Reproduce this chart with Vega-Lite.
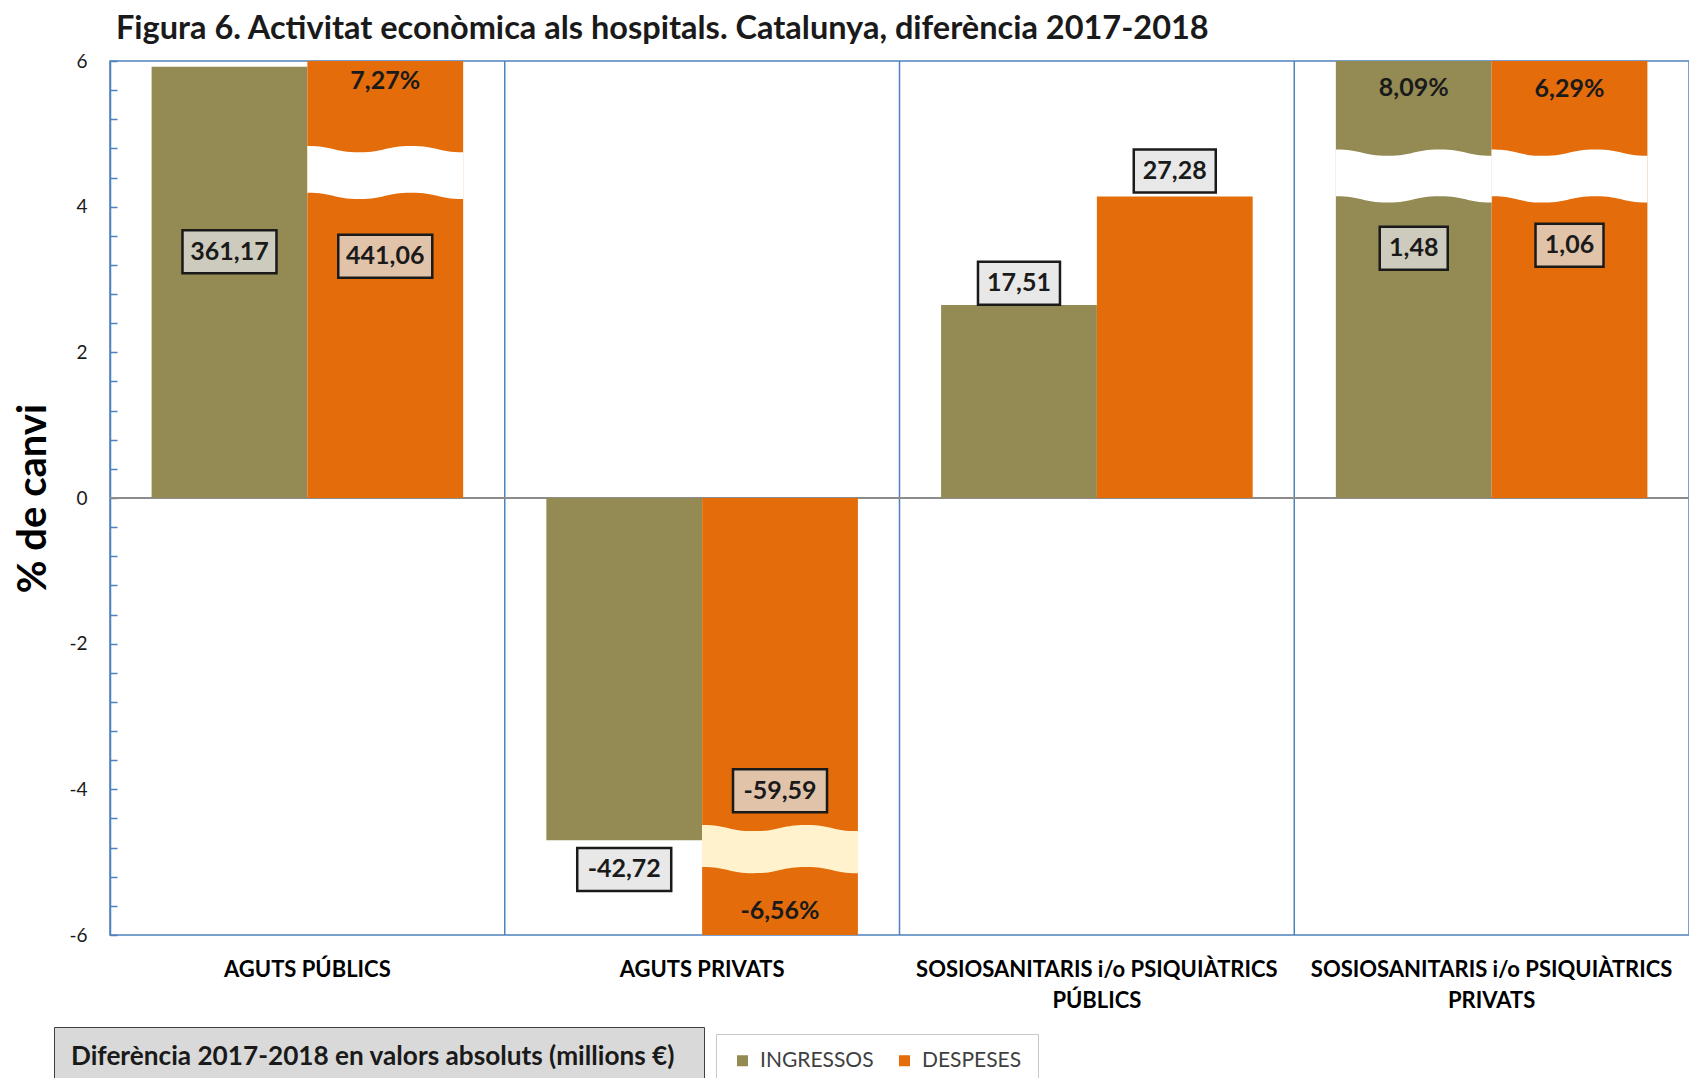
{
  "$schema": "https://vega.github.io/schema/vega-lite/v6.json",
  "autosize": {"type": "none"},
  "width": 1579,
  "height": 874,
  "padding": {"left": 110, "top": 61, "right": 0, "bottom": 143},
  "background": "white",
  "view": {"stroke": "#4F81BD", "strokeWidth": 1.5},
  "title": {
    "text": "Figura 6. Activitat econòmica als hospitals. Catalunya, diferència 2017-2018",
    "anchor": "start", "frame": "group", "font": "Lato", "fontSize": 32.5, "fontWeight": "bold",
    "color": "#1a1a1a", "offset": 7, "dx": 6
  },
  "datasets": {
    "bars": [
      {"cat": "AGUTS PÚBLICS", "serie": "INGRESSOS", "pct": 5.92},
      {"cat": "AGUTS PÚBLICS", "serie": "DESPESES", "pct": 7.27},
      {"cat": "AGUTS PRIVATS", "serie": "INGRESSOS", "pct": -4.70},
      {"cat": "AGUTS PRIVATS", "serie": "DESPESES", "pct": -6.56},
      {"cat": "SOSIOSANITARIS i/o PSIQUIÀTRICS PÚBLICS", "serie": "INGRESSOS", "pct": 2.65},
      {"cat": "SOSIOSANITARIS i/o PSIQUIÀTRICS PÚBLICS", "serie": "DESPESES", "pct": 4.14},
      {"cat": "SOSIOSANITARIS i/o PSIQUIÀTRICS PRIVATS", "serie": "INGRESSOS", "pct": 8.09},
      {"cat": "SOSIOSANITARIS i/o PSIQUIÀTRICS PRIVATS", "serie": "DESPESES", "pct": 6.29}
    ],
    "breaks": [
      {"cat": "AGUTS PÚBLICS", "serie": "DESPESES", "at": 4.47},
      {"cat": "AGUTS PRIVATS", "serie": "DESPESES", "at": -4.82},
      {"cat": "SOSIOSANITARIS i/o PSIQUIÀTRICS PRIVATS", "serie": "INGRESSOS", "at": 4.42},
      {"cat": "SOSIOSANITARIS i/o PSIQUIÀTRICS PRIVATS", "serie": "DESPESES", "at": 4.42}
    ],
    "labels": [
      {"cat": "AGUTS PÚBLICS", "serie": "INGRESSOS", "text": "361,17", "at": 3.38},
      {"cat": "AGUTS PÚBLICS", "serie": "DESPESES", "text": "441,06", "at": 3.32},
      {"cat": "AGUTS PÚBLICS", "serie": "DESPESES", "text": "7,27%", "at": 5.72},
      {"cat": "AGUTS PRIVATS", "serie": "INGRESSOS", "text": "-42,72", "at": -5.10},
      {"cat": "AGUTS PRIVATS", "serie": "DESPESES", "text": "-59,59", "at": -4.02},
      {"cat": "AGUTS PRIVATS", "serie": "DESPESES", "text": "-6,56%", "at": -5.67},
      {"cat": "SOSIOSANITARIS i/o PSIQUIÀTRICS PÚBLICS", "serie": "INGRESSOS", "text": "17,51", "at": 2.95},
      {"cat": "SOSIOSANITARIS i/o PSIQUIÀTRICS PÚBLICS", "serie": "DESPESES", "text": "27,28", "at": 4.49},
      {"cat": "SOSIOSANITARIS i/o PSIQUIÀTRICS PRIVATS", "serie": "INGRESSOS", "text": "8,09%", "at": 5.63},
      {"cat": "SOSIOSANITARIS i/o PSIQUIÀTRICS PRIVATS", "serie": "DESPESES", "text": "6,29%", "at": 5.62},
      {"cat": "SOSIOSANITARIS i/o PSIQUIÀTRICS PRIVATS", "serie": "INGRESSOS", "text": "1,48", "at": 3.43},
      {"cat": "SOSIOSANITARIS i/o PSIQUIÀTRICS PRIVATS", "serie": "DESPESES", "text": "1,06", "at": 3.47}
    ]
  },
  "layer": [
    {
      "data": {"name": "bars"},
      "transform": [{"filter": "datum.serie == 'INGRESSOS' && datum.cat != 'AGUTS PÚBLICS'"}],
      "mark": {"type": "rule", "color": "#4F81BD", "strokeWidth": 1.5},
      "encoding": {
        "x": {"field": "cat", "type": "nominal", "bandPosition": 0, "title": null,
              "scale": {"domain": ["AGUTS PÚBLICS", "AGUTS PRIVATS", "SOSIOSANITARIS i/o PSIQUIÀTRICS PÚBLICS", "SOSIOSANITARIS i/o PSIQUIÀTRICS PRIVATS"], "paddingInner": 0, "paddingOuter": 0}}
      }
    },
    {
      "data": {"values": [{}]},
      "mark": {"type": "rule", "color": "#8C8C8C", "strokeWidth": 2},
      "encoding": {
        "y": {"datum": 0, "type": "quantitative", "title": "% de canvi"},
        "opacity": {
          "datum": "nota", "type": "ordinal",
          "scale": {"range": [1, 1]},
          "legend": {
            "orient": "none", "legendX": -56, "legendY": 966,
            "direction": "horizontal",
            "title": "Diferència  2017-2018 en valors absoluts (millions €)",
            "titleOrient": "left", "titleFont": "Lato", "titleFontSize": 26.2, "titleFontWeight": "bold",
            "titleColor": "#1a1a1a", "titlePadding": 0, "titleBaseline": "top", "titleLimit": 1000,
            "fillColor": "#D9D9D9", "strokeColor": "#404040", "padding": 17,
            "symbolSize": 0, "symbolOpacity": 0, "symbolStrokeWidth": 0,
            "labelExpr": "''", "labelFontSize": 1
          }
        }
      }
    },
    {
      "data": {"name": "bars"},
      "mark": {"type": "bar", "clip": true},
      "encoding": {
        "x": {"field": "cat", "type": "nominal", "title": null,
              "scale": {"domain": ["AGUTS PÚBLICS", "AGUTS PRIVATS", "SOSIOSANITARIS i/o PSIQUIÀTRICS PÚBLICS", "SOSIOSANITARIS i/o PSIQUIÀTRICS PRIVATS"], "paddingInner": 0, "paddingOuter": 0},
              "axis": {"domain": false, "ticks": false, "grid": false, "labelAngle": 0, "labelAlign": "center",
                       "labelFont": "Lato", "labelFontSize": 22, "labelFontWeight": "bold", "labelColor": "#000",
                       "labelPadding": 34, "labelLineHeight": 31, "labelLimit": 600,
                       "labelExpr": "indexof(datum.label,'SOSIO') == 0 ? [substring(datum.label,0,31), substring(datum.label,32)] : datum.label"}},
        "xOffset": {"field": "serie", "type": "nominal",
                    "scale": {"domain": ["INGRESSOS", "DESPESES"], "paddingInner": 0, "paddingOuter": 0.267}},
        "y": {"field": "pct", "type": "quantitative", "title": "% de canvi",
              "scale": {"domain": [-6, 6], "nice": false, "zero": false},
              "axis": {
                "values": [-6,-5.6,-5.2,-4.8,-4.4,-4,-3.6,-3.2,-2.8,-2.4,-2,-1.6,-1.2,-0.8,-0.4,0,0.4,0.8,1.2,1.6,2,2.4,2.8,3.2,3.6,4,4.4,4.8,5.2,5.6,6],
                "tickCount": 100,
                "labelExpr": "datum.value % 2 == 0 ? '' + datum.value : ''",
                "tickSize": -7, "labelPadding": 30, "grid": false,
                "domainColor": "#4F81BD", "domainWidth": 1.5, "tickColor": "#4F81BD", "tickWidth": 1.5,
                "labelFont": "Lato", "labelFontSize": 19, "labelColor": "#1a1a1a",
                "labelOverlap": false, "labelFlush": false, "labelBound": false,
                "titleFont": "Lato", "titleFontSize": 40, "titleFontWeight": "bold", "titleColor": "#000",
                "titleX": -77, "titleY": 437, "titleAngle": -90, "titleBaseline": "middle", "titleAlign": "center"
              }},
        "color": {"field": "serie", "type": "nominal",
                  "scale": {"domain": ["INGRESSOS", "DESPESES"], "range": ["#948A54", "#E46C0A"]},
                  "legend": {"orient": "none", "legendX": 606, "legendY": 973, "direction": "horizontal",
                             "title": null, "fillColor": "white", "strokeColor": "#C8C8C8", "padding": 16,
                             "symbolType": "square", "symbolSize": 121, "symbolStrokeWidth": 0,
                             "labelFont": "Lato", "labelFontSize": 21, "labelColor": "#404040",
                             "columnPadding": 20, "labelOffset": 7}}
      }
    },
    {
      "data": {"name": "breaks"},
      "transform": [{"filter": "datum.at > 0"}],
      "mark": {"type": "point", "filled": true, "fill": "white", "opacity": 1, "strokeWidth": 0, "size": 24336,
               "shape": "M-1,-0.34 C-0.667,-0.34 -0.667,-0.26 -0.333,-0.26 C0,-0.26 0,-0.34 0.333,-0.34 C0.667,-0.34 0.667,-0.26 1,-0.26 L1,0.34 C0.667,0.34 0.667,0.26 0.333,0.26 C0,0.26 0,0.34 -0.333,0.34 C-0.667,0.34 -0.667,0.26 -1,0.26 Z"},
      "encoding": {
        "x": {"field": "cat", "type": "nominal", "title": null},
        "xOffset": {"field": "serie", "type": "nominal"},
        "y": {"field": "at", "type": "quantitative", "title": "% de canvi"}
      }
    },
    {
      "data": {"name": "breaks"},
      "transform": [{"filter": "datum.at < 0"}],
      "mark": {"type": "point", "filled": true, "fill": "#FFF2CC", "opacity": 1, "strokeWidth": 0, "size": 24336,
               "shape": "M-1,-0.31 C-0.667,-0.31 -0.667,-0.23 -0.333,-0.23 C0,-0.23 0,-0.31 0.333,-0.31 C0.667,-0.31 0.667,-0.23 1,-0.23 L1,0.31 C0.667,0.31 0.667,0.23 0.333,0.23 C0,0.23 0,0.31 -0.333,0.31 C-0.667,0.31 -0.667,0.23 -1,0.23 Z"},
      "encoding": {
        "x": {"field": "cat", "type": "nominal", "title": null},
        "xOffset": {"field": "serie", "type": "nominal"},
        "y": {"field": "at", "type": "quantitative", "title": "% de canvi"}
      }
    },
    {
      "data": {"name": "labels"},
      "transform": [{"filter": "indexof(datum.text,'%') < 0 && length(datum.text) == 6"}],
      "mark": {"type": "point", "filled": true, "fill": "#E0E0E0", "fillOpacity": 0.75, "opacity": 1,
               "stroke": "#1a1a1a", "strokeWidth": 2.5, "size": 8836, "shape": "M-1,-0.457H1V0.457H-1Z"},
      "encoding": {
        "x": {"field": "cat", "type": "nominal", "title": null},
        "xOffset": {"field": "serie", "type": "nominal"},
        "y": {"field": "at", "type": "quantitative", "title": "% de canvi"}
      }
    },
    {
      "data": {"name": "labels"},
      "transform": [{"filter": "indexof(datum.text,'%') < 0 && length(datum.text) == 5"}],
      "mark": {"type": "point", "filled": true, "fill": "#E0E0E0", "fillOpacity": 0.75, "opacity": 1,
               "stroke": "#1a1a1a", "strokeWidth": 2.5, "size": 6724, "shape": "M-1,-0.524H1V0.524H-1Z"},
      "encoding": {
        "x": {"field": "cat", "type": "nominal", "title": null},
        "xOffset": {"field": "serie", "type": "nominal"},
        "y": {"field": "at", "type": "quantitative", "title": "% de canvi"}
      }
    },
    {
      "data": {"name": "labels"},
      "transform": [{"filter": "indexof(datum.text,'%') < 0 && length(datum.text) == 4"}],
      "mark": {"type": "point", "filled": true, "fill": "#E0E0E0", "fillOpacity": 0.75, "opacity": 1,
               "stroke": "#1a1a1a", "strokeWidth": 2.5, "size": 4624, "shape": "M-1,-0.632H1V0.632H-1Z"},
      "encoding": {
        "x": {"field": "cat", "type": "nominal", "title": null},
        "xOffset": {"field": "serie", "type": "nominal"},
        "y": {"field": "at", "type": "quantitative", "title": "% de canvi"}
      }
    },
    {
      "data": {"name": "labels"},
      "mark": {"type": "text", "font": "Lato", "fontSize": 25, "fontWeight": "bold", "color": "#1a1a1a",
               "align": "center", "baseline": "middle"},
      "encoding": {
        "x": {"field": "cat", "type": "nominal", "title": null},
        "xOffset": {"field": "serie", "type": "nominal"},
        "y": {"field": "at", "type": "quantitative", "title": "% de canvi"},
        "text": {"field": "text", "type": "nominal"}
      }
    }
  ]
}
